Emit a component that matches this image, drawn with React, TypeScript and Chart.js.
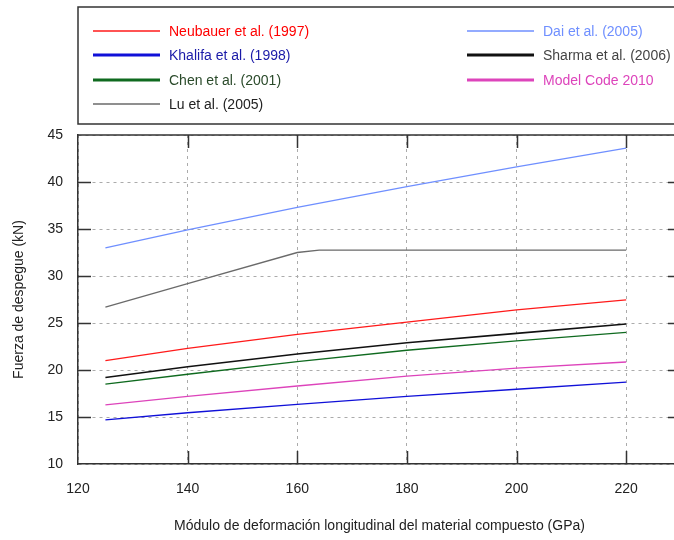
import React, { useEffect, useRef } from "react";
import { Chart, registerables } from "chart.js";

Chart.register(...registerables);

// ---- data ----
const xTickValues = [120, 140, 160, 180, 200, 220];
const yTickValues = [10, 15, 20, 25, 30, 35, 40, 45];

const xValues = [125, 140, 160, 180, 200, 220];
const neubauer = [21.0, 22.3, 23.8, 25.1, 26.4, 27.45];
const khalifa = [14.7, 15.45, 16.35, 17.2, 17.95, 18.7];
const chen = [18.5, 19.55, 20.9, 22.1, 23.1, 24.0];
const sharma = [19.2, 20.35, 21.7, 22.9, 23.9, 24.9];
const dai = [33.0, 34.9, 37.3, 39.5, 41.6, 43.6];
const modelCode = [16.3, 17.2, 18.3, 19.35, 20.2, 20.85];
const luX = [125, 140, 160, 164, 220];
const lu = [26.7, 29.2, 32.5, 32.75, 32.75];

const xTitle = "Módulo de deformación longitudinal del material compuesto (GPa)";
const yTitle = "Fuerza de despegue (kN)";

const NARROW = '"Liberation Sans Narrow", "Arial Narrow"';
const REGULAR = '"Liberation Sans", Arial, sans-serif';

function pickFont(): { family: string; size: number } {
  try {
    const c = document.createElement("canvas").getContext("2d");
    if (c) {
      const sample = "Neubauer et al. (1997)";
      c.font = `17px ${NARROW}, monospace`;
      const w1 = c.measureText(sample).width;
      c.font = "17px monospace";
      const w2 = c.measureText(sample).width;
      if (Math.abs(w1 - w2) > 0.5) return { family: `${NARROW}, ${REGULAR}`, size: 17 };
    }
  } catch (e) {
    /* ignore */
  }
  return { family: REGULAR, size: 14 };
}

const pts = (xs: number[], ys: number[]) => xs.map((x, i) => ({ x, y: ys[i] }));

type Series = {
  label: string;
  xs: number[];
  ys: number[];
  color: string;
  textColor: string;
  width: number;
  legendWidth: number;
  col: number;
  row: number;
};

const seriesList: Series[] = [
  { label: "Neubauer et al. (1997)", xs: xValues, ys: neubauer, color: "#ff1a1a", textColor: "#ff0000", width: 1.3, legendWidth: 1.5, col: 0, row: 0 },
  { label: "Khalifa et al. (1998)", xs: xValues, ys: khalifa, color: "#1010d8", textColor: "#1a1aa8", width: 1.3, legendWidth: 2.8, col: 0, row: 1 },
  { label: "Chen et al. (2001)", xs: xValues, ys: chen, color: "#0f6a1f", textColor: "#2a4a2a", width: 1.3, legendWidth: 2.8, col: 0, row: 2 },
  { label: "Lu et al. (2005)", xs: luX, ys: lu, color: "#6a6a6a", textColor: "#222222", width: 1.3, legendWidth: 1.5, col: 0, row: 3 },
  { label: "Dai et al. (2005)", xs: xValues, ys: dai, color: "#6f8fff", textColor: "#6f8fff", width: 1.3, legendWidth: 1.5, col: 1, row: 0 },
  { label: "Sharma et al. (2006)", xs: xValues, ys: sharma, color: "#111111", textColor: "#444444", width: 1.6, legendWidth: 2.8, col: 1, row: 1 },
  { label: "Model Code 2010", xs: xValues, ys: modelCode, color: "#dd44bb", textColor: "#dd44bb", width: 1.3, legendWidth: 2.8, col: 1, row: 2 },
];

function makeFramePlugin(fontStr: string) {
  return {
    id: "framePlugin",
    afterDraw(chart: any) {
      const { ctx, chartArea: a, scales } = chart;
      ctx.save();
      ctx.strokeStyle = "#333333";
      ctx.lineWidth = 1.5;
      ctx.setLineDash([]);
      // top & right border
      ctx.beginPath();
      ctx.moveTo(a.left, a.top);
      ctx.lineTo(a.right, a.top);
      ctx.lineTo(a.right, a.bottom);
      ctx.stroke();
      // inward ticks
      const tl = 13;
      ctx.beginPath();
      for (const v of xTickValues) {
        const px = Math.round(scales.x.getPixelForValue(v)) + 0.5;
        if (px <= a.left + 2 || px >= a.right - 2) continue;
        ctx.moveTo(px, a.bottom);
        ctx.lineTo(px, a.bottom - tl);
        ctx.moveTo(px, a.top);
        ctx.lineTo(px, a.top + tl);
      }
      for (const v of yTickValues) {
        const py = Math.round(scales.y.getPixelForValue(v)) + 0.5;
        if (py >= a.bottom - 2 || py <= a.top + 2) continue;
        ctx.moveTo(a.left, py);
        ctx.lineTo(a.left + tl, py);
        ctx.moveTo(a.right, py);
        ctx.lineTo(a.right - tl, py);
      }
      ctx.stroke();

      // legend box
      const boxTop = 7;
      const boxBottom = 124;
      ctx.beginPath();
      ctx.rect(a.left, boxTop, a.right - a.left, boxBottom - boxTop);
      ctx.stroke();

      const colLineX = [93, 467];
      const lineLen = 67;
      const rowY = [31, 55, 80, 104];
      ctx.font = fontStr;
      ctx.textBaseline = "middle";
      ctx.textAlign = "left";
      chart.data.datasets.forEach((ds: any, i: number) => {
        const s = seriesList[i];
        const x0 = colLineX[s.col];
        const y = rowY[s.row];
        ctx.strokeStyle = ds.borderColor;
        ctx.lineWidth = s.legendWidth;
        ctx.beginPath();
        ctx.moveTo(x0, y);
        ctx.lineTo(x0 + lineLen, y);
        ctx.stroke();
        ctx.fillStyle = s.textColor;
        ctx.fillText(ds.label, x0 + lineLen + 9, y + 1);
      });
      ctx.restore();
    },
  };
}

export default function App() {
  const ref = useRef<HTMLCanvasElement | null>(null);

  useEffect(() => {
    if (!ref.current) return;
    const f = pickFont();
    const FONT = f.family;
    const SIZE = f.size;
    Chart.defaults.font.family = FONT;
    Chart.defaults.font.size = SIZE;
    Chart.defaults.color = "#222222";
    const lh = SIZE * 1.2;

    const chart = new Chart(ref.current, {
      type: "line",
      data: {
        datasets: seriesList.map((s) => ({
          label: s.label,
          data: pts(s.xs, s.ys),
          borderColor: s.color,
          backgroundColor: s.color,
          borderWidth: s.width,
          pointRadius: 0,
          fill: false,
          tension: 0,
        })),
      },
      options: {
        responsive: false,
        animation: false,
        layout: { padding: { top: 135, right: 19, left: 0, bottom: 0 } },
        plugins: {
          legend: { display: false },
          tooltip: { enabled: false },
        },
        scales: {
          x: {
            type: "linear",
            min: 120,
            max: 230,
            afterBuildTicks: (scale: any) => {
              scale.ticks = xTickValues.map((v) => ({ value: v }));
            },
            afterFit: (scale: any) => {
              scale.height = 76;
            },
            grid: { color: "#ababab", lineWidth: 1, drawTicks: false },
            border: { color: "#333333", width: 1.5, dash: [3, 4] },
            ticks: { padding: Math.round(489 - 464 - lh / 2), color: "#222222", font: { size: SIZE, family: FONT } },
            title: {
              display: true,
              text: xTitle,
              color: "#222222",
              font: { size: SIZE, family: FONT },
              padding: { top: 0, bottom: Math.round(540 - 527 - lh / 2) },
            },
          },
          y: {
            type: "linear",
            min: 10,
            max: 45,
            afterBuildTicks: (scale: any) => {
              scale.ticks = yTickValues.map((v) => ({ value: v }));
            },
            afterFit: (scale: any) => {
              scale.width = 78;
            },
            grid: { color: "#ababab", lineWidth: 1, drawTicks: false },
            border: { color: "#333333", width: 1.5, dash: [3, 4] },
            ticks: { padding: 15, color: "#222222", font: { size: SIZE, family: FONT } },
            title: {
              display: true,
              text: yTitle,
              color: "#222222",
              font: { size: SIZE, family: FONT },
              padding: { top: Math.round(19 - lh / 2), bottom: 0 },
            },
          },
        },
      },
      plugins: [makeFramePlugin(`${SIZE}px ${FONT}`)],
    } as any);

    return () => chart.destroy();
  }, []);

  return (
    <div
      style={{
        position: "fixed",
        left: 0,
        top: 0,
        width: 674,
        height: 540,
        overflow: "hidden",
        background: "#ffffff",
      }}
    >
      <canvas ref={ref} width={700} height={540} style={{ width: 700, height: 540, display: "block" }} />
    </div>
  );
}
